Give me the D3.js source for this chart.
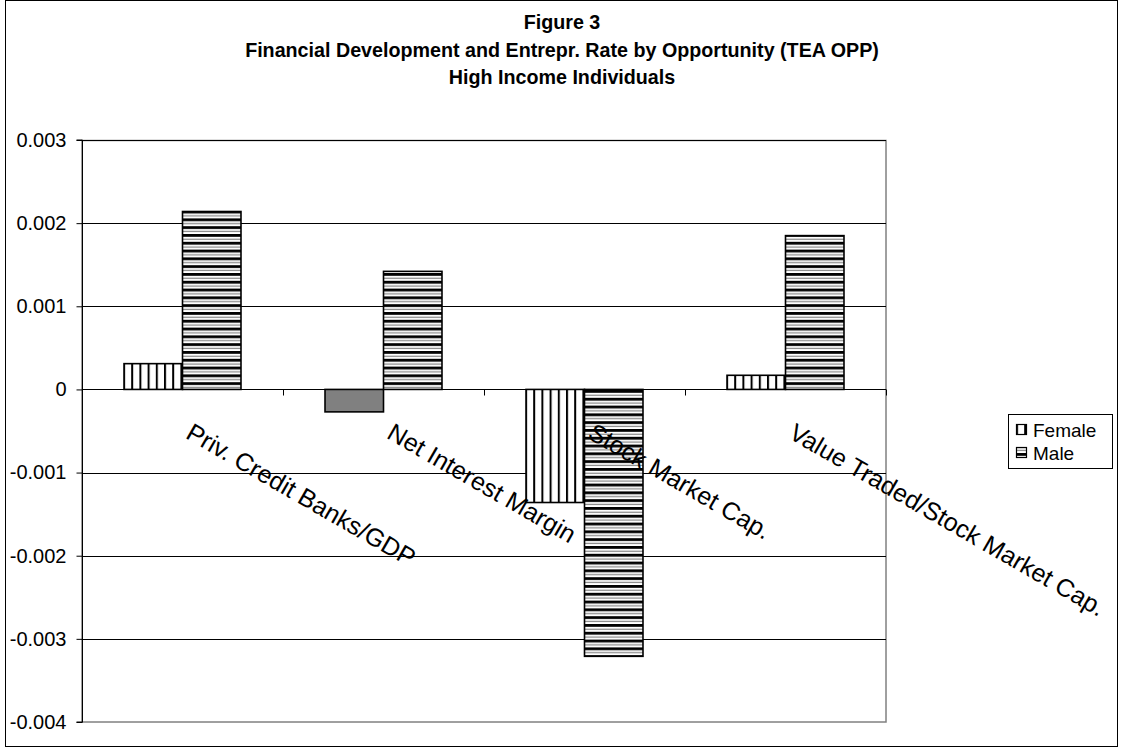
<!DOCTYPE html>
<html>
<head>
<meta charset="utf-8">
<script src="https://cdn.jsdelivr.net/npm/d3@7/dist/d3.min.js"></script>
<style>
  html, body { margin: 0; padding: 0; background: #fff; }
  svg { display: block; font-family: "Liberation Sans", Arial, sans-serif; }
</style>
</head>
<body>
<svg id="chart" width="1121" height="749"></svg>
<script>
const titleLines = ["Figure 3", "Financial Development and Entrepr. Rate by Opportunity (TEA OPP)", "High Income Individuals"];
const categories = ["Priv. Credit Banks/GDP", "Net Interest Margin", "Stock Market Cap.", "Value Traded/Stock Market Cap."];
const seriesNames = ["Female", "Male"];
const femaleValues = [0.00031, -0.00027, -0.00136, 0.00017];
const maleValues = [0.00214, 0.00142, -0.00321, 0.00185];
const yTicks = [-0.004, -0.003, -0.002, -0.001, 0, 0.001, 0.002, 0.003];
const yDomain = [-0.004, 0.003];

const svg = d3.select("#chart");
const plot = { left: 82, right: 886, top: 140, bottom: 722 };

// patterns
const defs = svg.append("defs");
const pv = defs.append("pattern").attr("id", "pat-female").attr("patternUnits", "userSpaceOnUse")
  .attr("width", 8.2).attr("height", 8);
pv.append("rect").attr("width", 8.2).attr("height", 8).attr("fill", "#fff");
pv.append("rect").attr("x", 0).attr("y", 0).attr("width", 2).attr("height", 8).attr("fill", "#000");

const ph = defs.append("pattern").attr("id", "pat-male").attr("patternUnits", "userSpaceOnUse")
  .attr("width", 8).attr("height", 7.8);
ph.append("rect").attr("width", 8).attr("height", 7.8).attr("fill", "#fff");
ph.append("rect").attr("x", 0).attr("y", 0).attr("width", 8).attr("height", 2.8).attr("fill", "#000");
ph.append("rect").attr("x", 0).attr("y", 4.6).attr("width", 8).attr("height", 1.3).attr("fill", "#8a8a8a");

// outer border
svg.append("rect").attr("x", 5.5).attr("y", 0.5).attr("width", 1112).attr("height", 746)
  .attr("fill", "#fff").attr("stroke", "#000").attr("stroke-width", 1);

// title
svg.append("g").selectAll("text").data(titleLines).join("text")
  .attr("x", 562).attr("y", (d, i) => 29 + i * 27.5)
  .attr("text-anchor", "middle").attr("font-weight", "bold").attr("font-size", 19.7)
  .attr("fill", "#000").text(d => d);

// scales
const y = d3.scaleLinear().domain(yDomain).range([plot.bottom, plot.top]);
const x0 = d3.scaleBand().domain(categories).range([plot.left, plot.right]).paddingInner(0).paddingOuter(0);
const bw = x0.bandwidth();
const x1 = d3.scaleBand().domain(seriesNames).range([bw * 0.209, bw * 0.791]).padding(0);

// plot frame (gray)
svg.append("rect").attr("x", plot.left).attr("y", plot.top + 0.5)
  .attr("width", plot.right - plot.left).attr("height", plot.bottom - plot.top - 0.5)
  .attr("fill", "none").attr("stroke", "#808080").attr("stroke-width", 1.5);

// gridlines
svg.append("g").selectAll("line").data(yTicks.filter(t => t !== 0 && t !== yDomain[0])).join("line")
  .attr("x1", plot.left).attr("x2", plot.right)
  .attr("y1", d => Math.round(y(d)) + 0.5).attr("y2", d => Math.round(y(d)) + 0.5)
  .attr("stroke", "#000").attr("stroke-width", 1);

// y axis
const fmt = d3.format(".3f");
const yAxis = d3.axisLeft(y).tickValues(yTicks).tickSize(6).tickPadding(10)
  .tickFormat(d => d === 0 ? "0" : fmt(d).replace("\u2212", "-"));
const gy = svg.append("g").attr("transform", `translate(${plot.left + 0.5},0)`).call(yAxis);
gy.select(".domain").attr("stroke", "#000").attr("d", `M-6,${y(yDomain[1])}H0V${y(yDomain[0])}H-6`);
gy.selectAll(".tick line").attr("stroke", "#000");
gy.selectAll(".tick text").attr("font-size", 20).attr("fill", "#000")
  .attr("font-family", "'Liberation Sans', Arial, sans-serif");

// bars
const data = categories.map((c, i) => ({ cat: c, vals: [
  { s: "Female", v: femaleValues[i] }, { s: "Male", v: maleValues[i] } ] }));

const groups = svg.append("g").selectAll("g").data(data).join("g")
  .attr("transform", d => `translate(${x0(d.cat)},0)`);
groups.selectAll("rect").data(d => d.vals.map(v => ({ ...v, cat: d.cat }))).join("rect")
  .attr("x", d => x1(d.s))
  .attr("y", d => y(Math.max(0, d.v)))
  .attr("width", x1.bandwidth())
  .attr("height", d => Math.abs(y(d.v) - y(0)))
  .attr("fill", d => (d.s === "Female" && d.cat === "Net Interest Margin") ? "#808080"
      : (d.s === "Female" ? "url(#pat-female)" : "url(#pat-male)"))
  .attr("stroke", "#000").attr("stroke-width", 1.6);

// x axis at zero
const y0 = Math.round(y(0)) + 0.5;
const gx = svg.append("g");
gx.append("line").attr("x1", plot.left).attr("x2", plot.right).attr("y1", y0).attr("y2", y0)
  .attr("stroke", "#000").attr("stroke-width", 1);
gx.selectAll("line.tk").data(categories).join("line").attr("class", "tk")
  .attr("x1", d => x0(d) + bw + 0.5).attr("x2", d => x0(d) + bw + 0.5)
  .attr("y1", y0).attr("y2", y0 + 6).attr("stroke", "#000");

// category labels (rotated)
gx.selectAll("text").data(categories).join("text")
  .attr("transform", d => `translate(${x0(d) + bw / 2 + 2},${y0 + 48}) rotate(30)`)
  .attr("text-anchor", "start").attr("font-size", 25).attr("fill", "#000")
  .text(d => d);

// legend
const lg = svg.append("g").attr("transform", "translate(1008,414)");
lg.append("rect").attr("x", 0.5).attr("y", 0.5).attr("width", 104).attr("height", 54)
  .attr("fill", "#fff").attr("stroke", "#000");
const li = lg.selectAll("g").data(seriesNames).join("g")
  .attr("transform", (d, i) => `translate(8,${16 + i * 23})`);
li.append("rect").attr("x", 0.5).attr("y", -5.5).attr("width", 10).attr("height", 10)
  .attr("fill", d => d === "Female" ? "url(#pat-female)" : "url(#pat-male)")
  .attr("stroke", "#000").attr("stroke-width", 1.2);
li.append("text").attr("x", 17).attr("y", 0).attr("dy", "0.35em")
  .attr("font-size", 19).attr("fill", "#000").text(d => d);
</script>
</body>
</html>
